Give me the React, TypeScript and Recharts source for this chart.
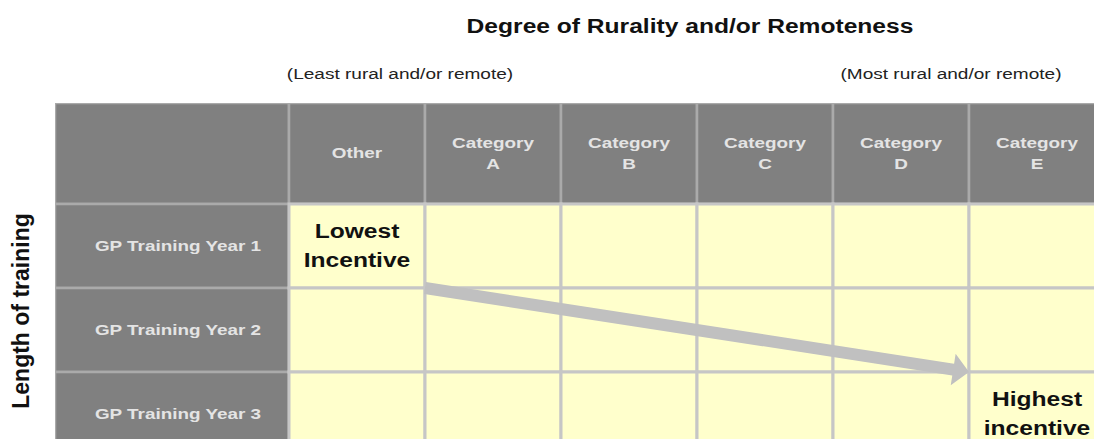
import { ComposedChart, XAxis, YAxis, ReferenceArea, ReferenceLine } from 'recharts'

// categories along the top (least -> most rural/remote)
const ruralityGroups = ['Other', 'Category A', 'Category B', 'Category C', 'Category D', 'Category E']
// rows down the side
const trainingYears = ['GP Training Year 1', 'GP Training Year 2', 'GP Training Year 3']
// text written inside the grid, placed by column / row index
const incentiveNotes = [
  { lines: ['Lowest', 'Incentive'], col: 0, row: 0 },
  { lines: ['Highest', 'incentive'], col: 5, row: 2 },
]
// arrow runs between grid corners (column index, row index)
const arrowStart = { x: 1, y: 1 }
const arrowEnd = { x: 5, y: 2 }

const FONT = '"Liberation Sans", Arial, Helvetica, sans-serif'
const W = 1094
const H = 439
const COL_PX = 136
const ROW_PX = 84
const LABEL_COL = 234 / COL_PX // width of the row-label column, in column units
const HEADER_ROW = 101 / ROW_PX // height of the header row, in row units
const xDomain = [-LABEL_COL, (W - 55) / COL_PX - LABEL_COL]
const yDomain = [-HEADER_ROW, (H - 103) / ROW_PX - HEADER_ROW]

const HEADER_FILL = '#808080'
const CELL_FILL = '#ffffcc'
const GRID = '#c6c6c6'
const HEADER_TEXT = '#e4e4e4'

function CellText(props: any) {
  const { viewBox, lines, size, fill, stretch = 1.26, gap = 21, dx = 0 } = props
  if (!viewBox) return null
  const cx = viewBox.x + viewBox.width / 2 + dx
  const cy = viewBox.y + viewBox.height / 2
  const top = cy - ((lines.length - 1) * gap) / 2
  return (
    <g transform={`translate(${cx},0) scale(${stretch},1)`}>
      {lines.map((l: string, i: number) => (
        <text
          key={i}
          x={0}
          y={top + i * gap}
          textAnchor="middle"
          dominantBaseline="central"
          fontFamily={FONT}
          fontSize={size}
          fontWeight="bold"
          fill={fill}
        >
          {l}
        </text>
      ))}
    </g>
  )
}

function ArrowShape(props: any) {
  const { x1, y1, x2, y2 } = props
  if (x1 == null || x2 == null) return null
  const dx = x2 - x1
  const dy = y2 - y1
  const len = Math.sqrt(dx * dx + dy * dy)
  const ux = dx / len
  const uy = dy / len
  const nx = -uy
  const ny = ux
  const shaft = 6
  const head = 16
  const headLen = 16
  const bx = x2 - ux * headLen
  const by = y2 - uy * headLen
  const pts = [
    [x1 + nx * shaft, y1 + ny * shaft],
    [bx + nx * shaft, by + ny * shaft],
    [bx + nx * head, by + ny * head],
    [x2, y2],
    [bx - nx * head, by - ny * head],
    [bx - nx * shaft, by - ny * shaft],
    [x1 - nx * shaft, y1 - ny * shaft],
  ]
  return <polygon points={pts.map((p) => p.join(',')).join(' ')} fill="#c0c0c0" />
}

export default function App() {
  return (
    <div style={{ position: 'absolute', left: 0, top: 0, width: W, height: H, background: '#fff', overflow: 'hidden' }}>
      <ComposedChart width={W} height={H} margin={{ top: 103, left: 55, right: 0, bottom: 0 }}>
        <XAxis type="number" dataKey="x" domain={xDomain} allowDataOverflow hide />
        <YAxis type="number" dataKey="y" domain={yDomain} allowDataOverflow reversed hide />

        {/* top-left empty header cell */}
        <ReferenceArea
          x1={-LABEL_COL}
          x2={0}
          y1={-HEADER_ROW}
          y2={0}
          fill={HEADER_FILL}
          fillOpacity={1}
          stroke="#aaaaaa"
          strokeWidth={2.5}
          ifOverflow="hidden"
        />

        {/* column headers */}
        {ruralityGroups.map((g, i) => (
          <ReferenceArea
            key={'h' + g}
            x1={i}
            x2={i + 1}
            y1={-HEADER_ROW}
            y2={0}
            fill={HEADER_FILL}
            fillOpacity={1}
            stroke="#aaaaaa"
            strokeWidth={2.5}
            ifOverflow="hidden"
            label={<CellText lines={g.split(' ')} size={15} fill={HEADER_TEXT} gap={21} />}
          />
        ))}

        {/* row headers */}
        {trainingYears.map((r, j) => (
          <ReferenceArea
            key={'r' + r}
            x1={-LABEL_COL}
            x2={0}
            y1={j}
            y2={j + 1}
            fill={HEADER_FILL}
            fillOpacity={1}
            stroke="#aaaaaa"
            strokeWidth={2.5}
            ifOverflow="hidden"
            label={<CellText lines={[r]} size={15} fill={HEADER_TEXT} dx={6} />}
          />
        ))}

        {/* body cells */}
        {trainingYears.map((r, j) =>
          ruralityGroups.map((g, i) => {
            const note = incentiveNotes.find((n) => n.col === i && n.row === j)
            return (
              <ReferenceArea
                key={r + g}
                x1={i}
                x2={i + 1}
                y1={j}
                y2={j + 1}
                fill={CELL_FILL}
                fillOpacity={1}
                stroke={GRID}
                strokeWidth={3}
                ifOverflow="hidden"
                label={note ? <CellText lines={note.lines} size={20.5} fill="#111" stretch={1.2} gap={29} /> : undefined}
              />
            )
          })
        )}

        <ReferenceLine segment={[arrowStart, arrowEnd]} shape={ArrowShape} ifOverflow="visible" />
      </ComposedChart>

      <svg width={W} height={H} style={{ position: 'absolute', left: 0, top: 0, pointerEvents: 'none' }}>
        <text
          transform="translate(690,33) scale(1.23,1)"
          textAnchor="middle"
          fontFamily={FONT}
          fontSize={20}
          fontWeight="bold"
          fill="#111"
        >
          Degree of Rurality and/or Remoteness
        </text>
        <text transform="translate(400,79) scale(1.27,1)" textAnchor="middle" fontFamily={FONT} fontSize={15} fill="#222">
          (Least rural and/or remote)
        </text>
        <text transform="translate(951,79) scale(1.27,1)" textAnchor="middle" fontFamily={FONT} fontSize={15} fill="#222">
          (Most rural and/or remote)
        </text>
        <text
          transform="translate(28.5,311) rotate(-90)"
          textAnchor="middle"
          fontFamily={FONT}
          fontSize={23}
          fontWeight="bold"
          fill="#111"
        >
          Length of training
        </text>
      </svg>
    </div>
  )
}
